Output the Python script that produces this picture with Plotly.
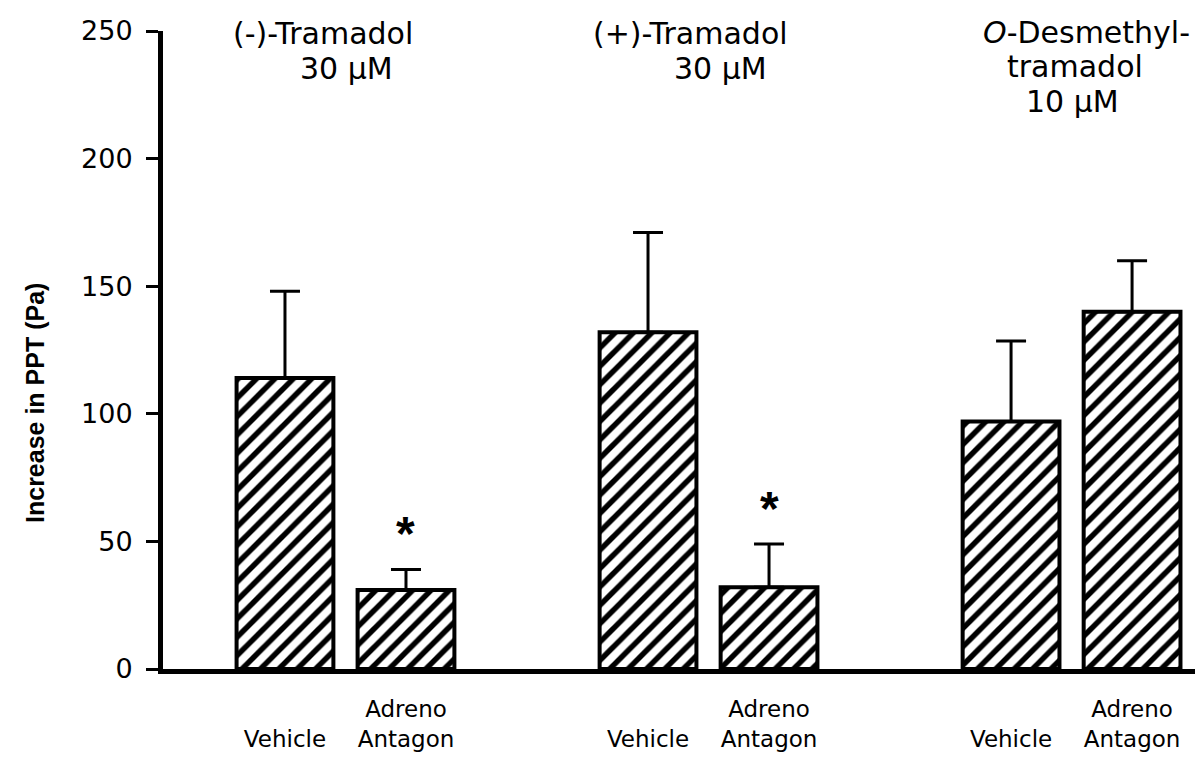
import plotly.graph_objects as go

# ---- data ----
groups = ["(-)-Tramadol", "(+)-Tramadol", "O-Desmethyl-tramadol"]
conditions = ["Vehicle", "Adreno Antagon"]
positions = [0, 1, 3, 4, 6, 7]
means = [114, 31, 132, 32, 97, 140]
sems = [34, 8, 39, 17, 31.5, 20]
significant = [False, True, False, True, False, False]
tick_labels = ["<br>Vehicle", "Adreno<br>Antagon"] * 3
y_ticks = [0, 50, 100, 150, 200, 250]

# group header text lines: (text, x, y)
header_lines = [
    ("(-)-Tramadol", 0.31, 248.9),
    ("30 µM", 0.51, 235.5),
    ("(+)-Tramadol", 3.35, 248.9),
    ("30 µM", 3.60, 235.5),
    ("<i>O</i>-Desmethyl-", 6.62, 249.3),
    ("tramadol", 6.53, 235.9),
    ("10 µM", 6.51, 222.5),
]

FONT = "DejaVu Sans, Verdana, sans-serif"
BOLD_FONT = "Liberation Sans, Arial, Helvetica, sans-serif"

fig = go.Figure()
fig.add_trace(go.Bar(
    x=positions,
    y=means,
    width=0.8,
    marker=dict(
        color="white",
        line=dict(color="black", width=4),
        pattern=dict(shape="/", fgcolor="black", fgopacity=1, bgcolor="white",
                     fillmode="replace", size=13, solidity=0.42),
    ),
    error_y=dict(
        type="data", array=sems, arrayminus=[0] * len(sems), symmetric=False,
        color="black", thickness=3, width=15,
    ),
    hoverinfo="skip",
))

for t, x, y in header_lines:
    fig.add_annotation(x=x, y=y, xref="x", yref="y", text=t, showarrow=False,
                       xanchor="center", yanchor="middle", borderpad=0,
                       font=dict(family=FONT, size=30, color="black"))

for p, m, s, sig in zip(positions, means, sems, significant):
    if sig:
        fig.add_annotation(x=p, y=m + s + 14, xref="x", yref="y", text="<b>*</b>",
                           showarrow=False, xanchor="center", yanchor="middle",
                           font=dict(family=BOLD_FONT, size=48, color="black"))

# y-axis title
fig.add_annotation(x=-0.124, y=0.417, xref="paper", yref="paper",
                   text="<b>Increase in PPT (Pa)</b>", textangle=-90, showarrow=False,
                   xanchor="center", yanchor="middle",
                   font=dict(family=BOLD_FONT, size=25, color="black"))

fig.update_layout(
    width=1200, height=757,
    margin=dict(l=163, r=5, t=31, b=70),
    paper_bgcolor="white", plot_bgcolor="white",
    showlegend=False,
    font=dict(family=FONT, color="black"),
    xaxis=dict(
        range=[-1.008, 7.52], showline=True, linecolor="black", linewidth=5,
        tickvals=positions, ticktext=tick_labels, ticks="",
        tickfont=dict(family=FONT, size=23, color="black"),
        ticklabelstandoff=15,
        showgrid=False, zeroline=False,
    ),
    yaxis=dict(
        range=[0, 250], tickvals=y_ticks, ticks="outside", ticklen=12, tickwidth=3,
        tickcolor="black", showline=True, linecolor="black", linewidth=5,
        tickfont=dict(family=FONT, size=27, color="black"),
        ticklabelstandoff=8,
        showgrid=False, zeroline=False,
    ),
)

fig.write_html("out.html", config={"displayModeBar": False},
               post_script="document.body.style.margin='0px';")
